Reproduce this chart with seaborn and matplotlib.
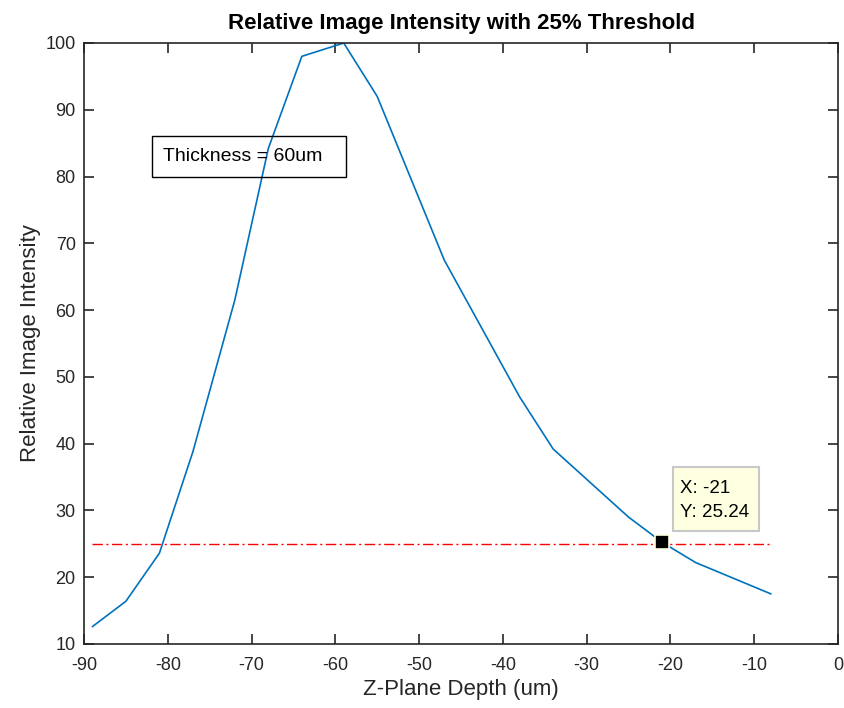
import numpy as np
import pandas as pd
import matplotlib
matplotlib.use("Agg")
import matplotlib.pyplot as plt
from matplotlib.patches import Rectangle
import seaborn as sns

# data
depth = [-89, -85, -81, -77, -72, -68, -64, -59, -55, -47, -38, -34, -25, -21, -17, -8]
intensity = [12.6, 16.4, 23.6, 38.8, 61.5, 84.2, 98.0, 100.0, 92.0, 67.5, 47.0, 39.2, 29.0, 25.24, 22.2, 17.5]
threshold = 25
tip_x, tip_y = -21, 25.24
x_ticks = list(range(-90, 1, 10))
y_ticks = list(range(10, 101, 10))

df = pd.DataFrame({"depth": depth, "intensity": intensity})
thr = pd.DataFrame({"depth": [depth[0], depth[-1]], "intensity": [threshold, threshold]})

sns.set_theme(style="white")
plt.rcParams["font.family"] = ["Liberation Sans", "DejaVu Sans"]
plt.rcParams["axes.unicode_minus"] = False
dark = "#262626"

fig = plt.figure(figsize=(8.44, 7.08), dpi=100)
ax = fig.add_axes([84 / 844, 64 / 708, (838 - 84) / 844, (644 - 43) / 708])

sns.lineplot(data=df, x="depth", y="intensity", ax=ax, color="#0072BD", lw=1.2,
             sort=False, estimator=None)
sns.lineplot(data=thr, x="depth", y="intensity", ax=ax, color="#FF0000", lw=1.0,
             linestyle=(0, (7.5, 2.5, 1.5, 2.5)), estimator=None)

# data tip
ax.plot([tip_x], [tip_y], marker="s", ms=10, color="black", mec="#FFFFE1", mew=1.2, zorder=5)
ax.add_patch(Rectangle((-19.73, 26.92), 10.33, 9.54, fc="#FFFFE1", ec="#C8C8C8", lw=1.5, zorder=6))
ax.text(-18.86, 31.5, f"X: {tip_x}\nY: {tip_y:.2f}", fontsize=13.5, color="black",
        va="center", ha="left", linespacing=1.6, zorder=7)

# text box
ax.add_patch(Rectangle((-81.9, 79.9), 23.2, 6.2, fc="none", ec="black", lw=1.0, zorder=4))
ax.text(-80.6, 82.95, "Thickness = 60um", fontsize=14, color="black", va="center", ha="left", zorder=4)

ax.set_xlim(-90, 0)
ax.set_ylim(10, 100)
ax.set_xticks(x_ticks)
ax.set_yticks(y_ticks)
ax.tick_params(direction="in", length=7, width=1.2, colors=dark, labelsize=13,
               top=True, right=True, bottom=True, left=True)
ax.tick_params(axis="x", pad=9)
ax.tick_params(axis="y", pad=6)
for s in ax.spines.values():
    s.set_color(dark)
    s.set_linewidth(1.2)
ax.set_xlabel("Z-Plane Depth (um)", fontsize=16, color=dark, va="center")
ax.xaxis.set_label_coords(0.5, -0.0765)
ax.set_ylabel("Relative Image Intensity", fontsize=16, color=dark, va="center")
ax.yaxis.set_label_coords(-0.0716, 0.5)
ax.set_title("Relative Image Intensity with 25% Threshold", fontsize=16,
             fontweight="bold", color="black", pad=10)

fig.savefig("out.png", dpi=100)
